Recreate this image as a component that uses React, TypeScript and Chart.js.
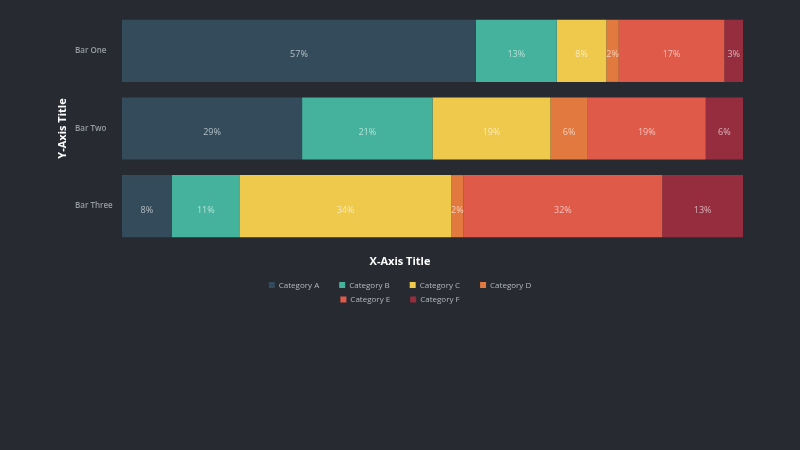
import React, { useEffect, useRef } from "react";
import { Chart, registerables } from "chart.js";

Chart.register(...registerables);

const categories = ["Bar One", "Bar Two", "Bar Three"];
const seriesNames = ["Category A", "Category B", "Category C", "Category D", "Category E", "Category F"];
const seriesColors = ["#334b5b", "#45b29d", "#efc94c", "#e27a3f", "#df5a49", "#962d3e"];
const categoryA = [57, 29, 8];
const categoryB = [13, 21, 11];
const categoryC = [8, 19, 34];
const categoryD = [2, 6, 2];
const categoryE = [17, 19, 32];
const categoryF = [3, 6, 13];
const seriesValues = [categoryA, categoryB, categoryC, categoryD, categoryE, categoryF];
const xAxisTitle = "X-Axis Title";
const yAxisTitle = "Y-Axis Title";

const BG = "#272a31";
const FONT = "'Open Sans', 'Noto Sans', sans-serif";

const barLabels = {
  id: "barLabels",
  afterDatasetsDraw(chart: any) {
    const ctx = chart.ctx;
    ctx.save();
    ctx.font = `400 9px ${FONT}`;
    ctx.fillStyle = "rgba(255,255,255,0.62)";
    ctx.textAlign = "center";
    ctx.textBaseline = "middle";
    chart.data.datasets.forEach((ds: any, di: number) => {
      const meta = chart.getDatasetMeta(di);
      meta.data.forEach((el: any, i: number) => {
        const v = ds.data[i];
        const cx = (el.x + el.base) / 2;
        ctx.fillText(`${v}%`, cx, el.y + 4);
      });
    });
    ctx.restore();
  },
};

const customLegend = {
  id: "customLegend",
  afterDraw(chart: any) {
    const ctx = chart.ctx;
    const xs = chart.scales.x;
    const centerX = chart.width / 2;
    ctx.save();
    // x-axis title centred on the canvas
    ctx.font = `700 11px ${FONT}`;
    ctx.fillStyle = "#ffffff";
    ctx.textAlign = "center";
    ctx.textBaseline = "middle";
    ctx.fillText(xAxisTitle, centerX, xs.bottom + 17);

    const box = 6;
    const gapBox = 4;
    const gapItem = 20;
    const maxRow = 300;
    ctx.font = `400 8px ${FONT}`;
    ctx.textBaseline = "middle";
    ctx.textAlign = "left";
    const items = chart.data.datasets.map((ds: any) => ({
      text: ds.label,
      color: ds.backgroundColor,
      w: box + gapBox + ctx.measureText(ds.label).width,
    }));
    const rows: any[][] = [[]];
    let rowW = 0;
    items.forEach((it: any) => {
      const cur = rows[rows.length - 1];
      const add = (cur.length ? gapItem : 0) + it.w;
      if (cur.length && rowW + add > maxRow) {
        rows.push([it]);
        rowW = it.w;
      } else {
        cur.push(it);
        rowW += add;
      }
    });
    rows.forEach((row, ri) => {
      const total = row.reduce((s: number, it: any) => s + it.w, 0) + gapItem * (row.length - 1);
      let x = centerX - total / 2;
      const y = xs.bottom + 40 + ri * 14.5;
      row.forEach((it: any) => {
        ctx.fillStyle = it.color;
        ctx.fillRect(x, y - box / 2, box, box);
        ctx.fillStyle = "#b4b8bf";
        ctx.fillText(it.text, x + box + gapBox, y + 0.5);
        x += it.w + gapItem;
      });
    });
    ctx.restore();
  },
};

export default function App() {
  const ref = useRef<HTMLCanvasElement | null>(null);
  useEffect(() => {
    if (!ref.current) return;
    const chart = new Chart(ref.current, {
      type: "bar",
      data: {
        labels: categories,
        datasets: seriesNames.map((name, i) => ({
          label: name,
          data: seriesValues[i],
          backgroundColor: seriesColors[i],
          borderWidth: 0,
          barPercentage: 1,
          categoryPercentage: 0.8,
        })),
      },
      options: {
        indexAxis: "y",
        animation: false,
        responsive: true,
        maintainAspectRatio: false,
        layout: { padding: { left: 52, right: 57, top: 12, bottom: 205 } },
        plugins: {
          legend: { display: false },
          tooltip: { enabled: false },
        },
        scales: {
          y: {
            stacked: true,
            position: "left",
            weight: 0,
            grid: { display: false, drawTicks: false },
            border: { display: false },
            ticks: {
              crossAlign: "far",
              padding: 0,
              color: "#989ca3",
              font: { family: FONT, size: 8, weight: "600" },
            },
            afterFit: (s: any) => {
              s.width = 47;
            },
          },
          yTitle: {
            type: "category",
            position: "left",
            weight: 1,
            display: true,
            grid: { display: false, drawTicks: false },
            border: { display: false },
            ticks: { display: false },
            title: {
              display: true,
              text: yAxisTitle,
              color: "#ffffff",
              font: { family: FONT, size: 11, weight: "bold" },
              padding: { top: 4, bottom: 4 },
            },
            afterFit: (s: any) => {
              s.width = 23;
            },
          },
          x: {
            stacked: true,
            min: 0,
            max: 100,
            grid: { display: false, drawTicks: false },
            border: { display: false },
            ticks: { display: false },
            title: { display: false },
          },
        },
      },
      plugins: [barLabels, customLegend],
    } as any);
    return () => chart.destroy();
  }, []);

  return (
    <div style={{ position: "fixed", left: 0, top: 0, width: 800, height: 450, background: BG }}>
      <div style={{ position: "relative", width: 800, height: 450 }}>
        <canvas ref={ref} />
      </div>
    </div>
  );
}
